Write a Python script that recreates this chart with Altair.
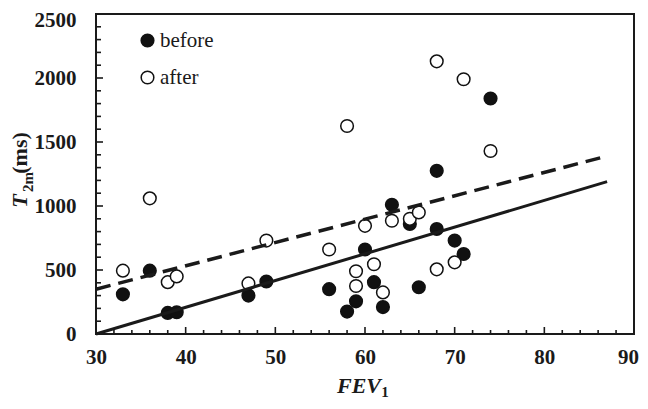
import altair as alt
import pandas as pd

# ---- data ----
before_x = [33, 36, 38, 39, 47, 49, 56, 58, 59, 60, 61, 62, 63, 65, 66, 68, 68, 70, 71, 74]
before_y = [310, 495, 165, 170, 300, 410, 350, 175, 255, 660, 405, 210, 1010, 860, 365, 820, 1275, 730, 625, 1840]
after_x = [33, 36, 38, 39, 47, 49, 56, 58, 59, 59, 60, 61, 62, 63, 65, 66, 68, 68, 70, 71, 74]
after_y = [495, 1060, 405, 450, 395, 730, 660, 1625, 490, 375, 845, 545, 325, 885, 900, 950, 2130, 505, 560, 1990, 1430]

fit_x = [30, 87]
before_fit_y = [0, 1190]
after_fit_y = [350, 1390]

groups = ["before", "after"]
x_labels = [30, 40, 50, 60, 70, 80, 90]
y_labels = [0, 500, 1000, 1500, 2000, 2500]
x_minor = [v for v in range(32, 90, 2) if v % 10 != 0]
x_major = [40, 50, 60, 70, 80]
y_minor = [v for v in range(100, 2500, 100) if v % 500 != 0]
y_major = [500, 1000, 1500, 2000]

y_title_parts = ["T", "2m", "(ms)"]
x_title_parts = ["FEV", "1"]

W, H = 538, 320
FONT = "Liberation Serif"
INK = "#1a1a1a"

xs = alt.Scale(domain=[30, 90], nice=False, zero=False)
ys = alt.Scale(domain=[0, 2500], nice=False)

x_axis = alt.Axis(
    values=x_labels, ticks=False, tickSize=0, domain=False, grid=False, title=None,
    format="d", labelFont=FONT, labelFontWeight="bold", labelFontSize=21, labelColor=INK,
    labelPadding=12, labelFlush=False, labelOverlap=False,
    labelOffset={"condition": {"test": "datum.value == 90", "value": -6}, "value": 0})
y_axis = alt.Axis(
    values=y_labels, ticks=False, tickSize=0, domain=False, grid=False, title=None,
    format="d", labelFont=FONT, labelFontWeight="bold", labelFontSize=21, labelColor=INK,
    labelPadding=20, labelFlush=False, labelOverlap=False,
    labelOffset={"condition": {"test": "datum.value == 2500", "value": 6}, "value": 0})


def X(field):
    return alt.X(field, type="quantitative", scale=xs, axis=x_axis)


def Y(field):
    return alt.Y(field, type="quantitative", scale=ys, axis=y_axis)


pts = pd.DataFrame({
    "FEV": before_x + after_x,
    "T": before_y + after_y,
    "group": ["before"] * len(before_x) + ["after"] * len(after_x),
})

points = alt.Chart(pts).mark_point(
    shape="circle", filled=True, opacity=1, strokeWidth=1.5, size=160
).encode(
    x=X("FEV"),
    y=Y("T"),
    fill=alt.Fill("group:N", scale=alt.Scale(domain=groups, range=["#111111", "white"]),
                  legend=alt.Legend(
                      orient="none", legendX=41, legendY=16, title=None, padding=0,
                      labelFont=FONT, labelFontSize=21, labelColor=INK, labelOffset=2,
                      symbolType="circle", symbolSize=160, symbolStrokeColor="#111111",
                      symbolStrokeWidth=1.5, rowPadding=15)),
    stroke=alt.value("#111111"),
)

fit_df = pd.DataFrame({"fx": fit_x, "bf": before_fit_y, "af": after_fit_y})
solid = alt.Chart(fit_df).mark_line(color=INK, strokeWidth=3).encode(x=X("fx"), y=Y("bf"))
dashed = alt.Chart(fit_df).mark_line(color=INK, strokeWidth=3.5, strokeDash=[15, 8]).encode(
    x=X("fx"), y=Y("af"))


def xticks(vals, length):
    return alt.Chart(pd.DataFrame({"tx": vals})).mark_rule(color=INK, strokeWidth=1.6).encode(
        x=X("tx"), y=alt.value(H), y2=alt.value(H - length))


def yticks(vals, length):
    return alt.Chart(pd.DataFrame({"ty": vals})).mark_rule(color=INK, strokeWidth=1.6).encode(
        y=Y("ty"), x=alt.value(0), x2=alt.value(length))


def label(text, x, y, size, style="normal", weight="bold", angle=0):
    return alt.Chart(pd.DataFrame({"t": [text]})).mark_text(
        font=FONT, fontSize=size, fontStyle=style, fontWeight=weight, color=INK,
        align="center", baseline="middle", angle=angle
    ).encode(text="t:N", x=alt.value(x), y=alt.value(y))


titles = [
    label(y_title_parts[0], -76, 187, 22, style="italic", angle=270),
    label(y_title_parts[1], -68, 168, 15, angle=270),
    label(y_title_parts[2], -76, 139, 22, angle=270),
    label(x_title_parts[0], 263, 372, 22, style="italic"),
    label(x_title_parts[1], 289, 378, 15),
]

chart = alt.layer(
    points, solid, dashed,
    xticks(x_minor, 4), xticks(x_major, 7),
    yticks(y_minor, 5), yticks(y_major, 7),
    *titles
).properties(
    width=W, height=H,
    autosize=alt.AutoSizeParams(type="none"),
    padding={"left": 88, "top": 6, "right": 6, "bottom": 67},
    background="white",
).configure_view(stroke=INK, strokeWidth=2)

chart.save("out.html", embed_options={"renderer": "svg", "actions": False})
